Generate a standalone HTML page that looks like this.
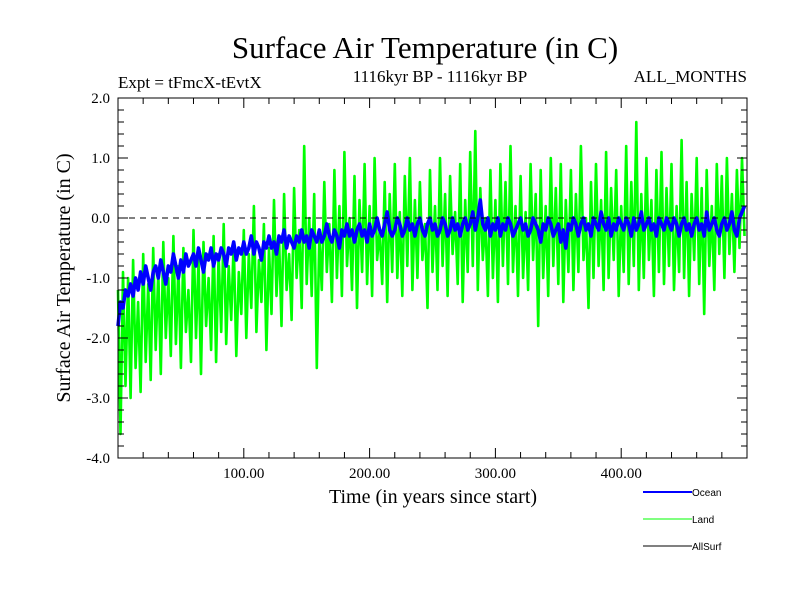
<!DOCTYPE html>
<html><head><meta charset="utf-8"><style>
body{margin:0;background:#fff}
svg text{font-family:"Liberation Serif",serif;fill:#000}
svg text.sans{font-family:"Liberation Sans",sans-serif}
</style></head><body>
<svg id="c" width="800" height="600" xmlns="http://www.w3.org/2000/svg">
<text x="425" y="58" font-size="31" text-anchor="middle">Surface Air Temperature (in C)</text>
<text x="118" y="88" font-size="17">Expt = tFmcX-tEvtX</text>
<text x="440" y="82" font-size="17" text-anchor="middle">1116kyr BP - 1116kyr BP</text>
<text x="747" y="82" font-size="17" text-anchor="end">ALL_MONTHS</text>
<text x="433" y="503" font-size="20" text-anchor="middle">Time (in years since start)</text>
<text transform="translate(70,278) rotate(-90)" font-size="20" text-anchor="middle">Surface Air Temperature (in C)</text>
<g id="plot"></g>
<g>
<line x1="643" y1="492" x2="692" y2="492" stroke="#0000ff" stroke-width="2"/>
<text class="sans" x="692" y="496" font-size="10">Ocean</text>
<line x1="643" y1="519" x2="692" y2="519" stroke="#00ff00" stroke-width="1"/>
<text class="sans" x="692" y="523" font-size="10">Land</text>
<line x1="643" y1="546" x2="692" y2="546" stroke="#000" stroke-width="1"/>
<text class="sans" x="692" y="550" font-size="10">AllSurf</text>
</g>
</svg>
<script>
const yearStep = 2;
const xTickLabels = ["100.00","200.00","300.00","400.00"];
const xTickValues = [100,200,300,400];
const yTickValues = [2,1,0,-1,-2,-3,-4];
const yTickLabels = ["2.0","1.0","0.0","-1.0","-2.0","-3.0","-4.0"];
const landValues = [
-1.2,-3.6,-0.9,-2.8,-1.0,-3.0,-0.7,-2.5,-1.4,-2.9,
-0.6,-2.4,-1.1,-2.7,-0.5,-2.2,-0.9,-2.6,-0.4,-2.0,
-1.0,-2.3,-0.3,-2.1,-0.8,-2.5,-0.5,-1.9,-1.2,-2.4,
-0.2,-2.0,-0.7,-2.6,-0.4,-1.8,-1.0,-2.2,-0.3,-2.4,
-0.6,-1.9,-0.1,-2.1,-0.8,-1.7,-0.4,-2.3,-0.9,-1.6,
-0.2,-2.0,-0.6,-1.5,0.2,-1.9,-0.7,-1.4,-0.1,-2.2,
-0.5,-1.6,0.3,-1.3,-0.3,-1.8,0.4,-1.2,-0.6,-1.7,
0.5,-1.0,-0.2,-1.5,1.2,-1.1,0.0,-1.3,0.4,-2.5,
-0.3,-1.2,0.6,-0.9,-0.1,-1.4,0.8,-1.0,0.2,-1.3,
1.1,-0.8,0.0,-1.2,0.7,-1.5,0.3,-0.9,0.9,-1.1,
0.2,-1.3,1.0,-0.7,-0.2,-1.1,0.6,-1.4,0.4,-0.9,
0.9,-1.0,0.1,-1.3,0.7,-0.8,1.0,-1.2,0.3,-1.0,
0.6,-0.7,-0.1,-1.5,0.8,-0.9,0.2,-1.2,1.0,-0.8,
0.4,-1.3,0.7,-0.6,0.1,-1.1,0.9,-1.4,0.3,-0.9,
1.1,-0.8,1.45,-1.2,0.5,-0.7,0.0,-1.3,0.8,-1.0,
0.3,-1.4,0.9,-0.8,0.6,-1.1,1.2,-0.9,0.2,-1.3,
0.7,-1.0,0.1,-1.2,0.9,-0.7,0.4,-1.8,0.8,-1.0,
0.2,-1.3,1.0,-0.8,0.5,-1.1,0.9,-1.4,0.3,-0.9,
0.8,-1.2,0.4,-0.9,1.2,-0.7,0.0,-1.5,0.6,-1.0,
0.9,-0.8,0.3,-1.2,1.1,-1.0,0.5,-0.7,0.8,-1.3,
0.2,-0.9,1.2,-1.1,0.6,-0.8,1.6,-1.2,0.4,-1.0,
1.0,-0.7,0.3,-1.3,0.8,-0.9,1.1,-1.1,0.5,-0.8,
0.9,-1.2,0.2,-0.9,1.3,-1.0,0.6,-1.3,0.4,-0.7,
1.0,-1.1,0.5,-1.6,0.8,-0.8,0.2,-1.2,0.9,-0.6,
0.7,-1.0,1.0,-0.6,0.4,-0.9,0.8,-0.5,1.0,-0.3];
const oceanValues = [
-1.8,-1.4,-1.5,-1.2,-1.3,-1.1,-1.3,-1.0,-1.2,-0.9,
-1.1,-0.8,-1.0,-1.2,-0.9,-0.8,-1.0,-0.7,-0.9,-1.1,
-0.8,-0.9,-0.6,-0.8,-1.0,-0.7,-0.9,-0.6,-0.8,-0.7,
-0.6,-0.8,-0.5,-0.7,-0.9,-0.6,-0.7,-0.5,-0.8,-0.6,
-0.7,-0.5,-0.6,-0.8,-0.5,-0.6,-0.4,-0.7,-0.5,-0.6,
-0.4,-0.6,-0.5,-0.3,-0.6,-0.4,-0.5,-0.7,-0.4,-0.5,
-0.3,-0.5,-0.4,-0.6,-0.3,-0.4,-0.2,-0.5,-0.3,-0.4,
-0.5,-0.3,-0.4,-0.2,-0.4,-0.3,-0.5,-0.2,-0.3,-0.4,
-0.2,-0.4,-0.3,-0.1,-0.3,-0.4,-0.2,-0.3,-0.5,-0.2,
-0.3,-0.1,-0.3,-0.2,-0.4,-0.2,-0.1,-0.3,-0.2,-0.4,
-0.1,-0.3,-0.2,0.0,-0.2,-0.3,-0.1,0.1,-0.2,-0.3,
-0.2,0.0,-0.1,-0.3,-0.2,0.0,-0.2,-0.1,-0.3,-0.1,
0.0,-0.2,-0.3,-0.1,0.0,-0.2,-0.1,-0.3,-0.2,0.0,
-0.1,-0.3,-0.2,0.0,-0.2,-0.1,-0.3,-0.1,0.0,-0.2,
-0.1,0.1,-0.2,0.0,0.3,-0.1,-0.2,0.0,-0.3,-0.1,
-0.2,0.0,-0.3,-0.1,-0.2,0.0,-0.1,-0.3,-0.2,-0.1,
0.0,-0.2,-0.1,-0.3,-0.2,0.0,-0.1,-0.2,-0.4,-0.1,
-0.2,0.0,-0.1,-0.3,-0.2,-0.1,-0.4,-0.2,-0.5,-0.1,
-0.2,0.0,-0.1,-0.3,-0.1,0.0,-0.2,-0.1,-0.3,0.0,
-0.1,-0.2,0.1,-0.1,-0.2,0.0,-0.3,-0.1,-0.2,0.0,
-0.1,-0.2,0.0,-0.1,-0.3,0.0,-0.2,-0.1,0.1,-0.2,
-0.1,0.0,-0.2,-0.1,-0.3,0.0,-0.1,-0.2,0.0,-0.1,
-0.2,0.0,-0.1,-0.3,-0.1,0.0,-0.2,-0.1,-0.3,-0.1,
0.0,-0.2,-0.1,-0.3,0.1,-0.2,-0.1,0.0,-0.2,-0.3,
-0.1,0.0,-0.2,-0.1,0.1,-0.2,-0.3,0.0,0.1,0.2];

const L=118,R=747,T=98,B=458,XMAX=500;
const sx=v=>L+(v/XMAX)*(R-L);
const sy=v=>T+(2-v)/6*(B-T);
const NS="http://www.w3.org/2000/svg";
const g=document.getElementById('plot');
function mk(t,a){const e=document.createElementNS(NS,t);for(const k in a)e.setAttribute(k,a[k]);g.appendChild(e);return e;}
function pts(arr){return arr.map((v,i)=>sx(i*yearStep).toFixed(1)+','+sy(v).toFixed(1)).join(' ');}

const land=mk('polyline',{points:pts(landValues),fill:'none',stroke:'#00ff00','stroke-width':2.6,'stroke-linejoin':'round'});


const ocean=mk('polyline',{points:pts(oceanValues),fill:'none',stroke:'#0000ff','stroke-width':3.6,'stroke-linejoin':'round'});


const zl=mk('line',{x1:L,x2:R,y1:sy(0),y2:sy(0),stroke:'#000','stroke-dasharray':'6,5','stroke-width':1});


const fr=mk('rect',{x:L,y:T,width:R-L,height:B-T,fill:'none',stroke:'#000','stroke-width':1});


for(let v=20;v<XMAX;v+=20){const maj=v%100===0;const len=maj?10:6;
 mk('line',{x1:sx(v),x2:sx(v),y1:B,y2:B-len,stroke:'#000'});
 mk('line',{x1:sx(v),x2:sx(v),y1:T,y2:T+len,stroke:'#000'});}
for(let k=-20;k<=10;k++){const v=k/5;const maj=k%5===0;const len=maj?10:6;
 mk('line',{x1:L,x2:L+len,y1:sy(v),y2:sy(v),stroke:'#000'});
 mk('line',{x1:R,x2:R-len,y1:sy(v),y2:sy(v),stroke:'#000'});}
xTickValues.forEach((v,i)=>{const t=mk('text',{x:sx(v),y:B+20,'font-size':15,'text-anchor':'middle'});t.textContent=xTickLabels[i];
 
 });
yTickValues.forEach((v,i)=>{const t=mk('text',{x:L-8,y:sy(v)+5,'font-size':15,'text-anchor':'end'});t.textContent=yTickLabels[i];
 
 });
</script>
</body></html>
